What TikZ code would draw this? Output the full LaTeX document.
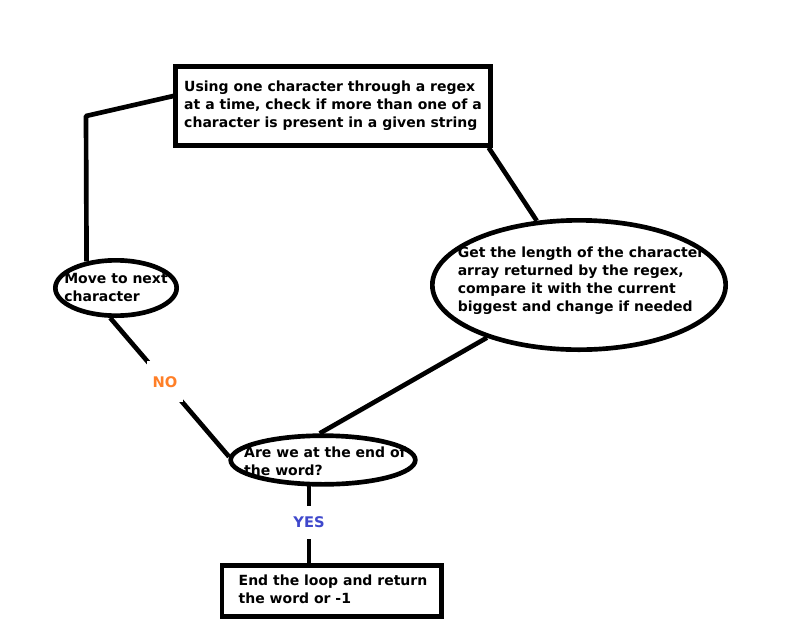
\documentclass[tikz,border=0pt]{standalone}
\usepackage{fontspec}
\setmainfont{DejaVu Sans}
\usetikzlibrary{shapes.geometric,calc}
\definecolor{noorange}{RGB}{255,127,39}
\definecolor{yesblue}{RGB}{63,72,204}
\begin{document}
\begin{tikzpicture}[x=0.75pt,y=-0.75pt,
  txt/.style={font=\fontsize{10.5pt}{13.5pt}\selectfont\bfseries, align=left, inner sep=0pt},
  boxnode/.style={draw, line width=3.5pt, rectangle},
  ellnode/.style={draw, line width=3.5pt, ellipse, inner sep=0pt},
  conn/.style={line width=3.5pt, line join=round},
  lbl/.style={fill=white, inner sep=0pt, font=\fontsize{11pt}{12pt}\selectfont\bfseries}
]
\useasboundingbox (0,0) rectangle (792,636);

\node[boxnode, minimum width=236pt, minimum height=59pt] (top) at (333,106) {};
\node[txt] (topT) at (333,106)
  {Using one character through a regex\\at a time, check if more than one of a\\character is present in a given string};

\node[ellnode, minimum width=91pt, minimum height=41.5pt] (move) at (116,288) {};
\node[txt] (moveT) at (116,287) {Move to next\\character};

\node[ellnode, minimum width=220pt, minimum height=97pt] (lenq) at (579,285) {};
\node[txt] (lenqT) at (581,281) {Get the length of the character\\array returned by the regex,\\compare it with the current\\biggest and change if needed};

\node[ellnode, minimum width=138.5pt, minimum height=36.5pt] (endq) at (323,460) {};
\node[txt] (endqT) at (325,461) {Are we at the end of\\the word?};

\node[boxnode, minimum width=164.5pt, minimum height=38.5pt] (final) at (331.5,591) {};
\node[txt] (finalT) at (333,589) {End the loop and return\\the word or -1};

\coordinate (bend) at (86,116);
\draw[conn] ($(top.west)+(0,-10)$) -- (bend) -- (move.138);
\draw[conn] ($(top.south east)+(-4,0)$) -- (lenq);
\draw[conn] (lenq) -- (endq.97);
\draw[conn] (move.259) -- node[lbl, text=noorange, minimum width=27pt, minimum height=31pt, pos=0.46] (nolbl) {NO} (endq.178);
\draw[conn] (endq.242) -- node[lbl, text=yesblue, minimum width=24pt, minimum height=25pt, pos=0.47] (yeslbl) {YES} (endq.242 |- final.north);
\end{tikzpicture}
\end{document}
